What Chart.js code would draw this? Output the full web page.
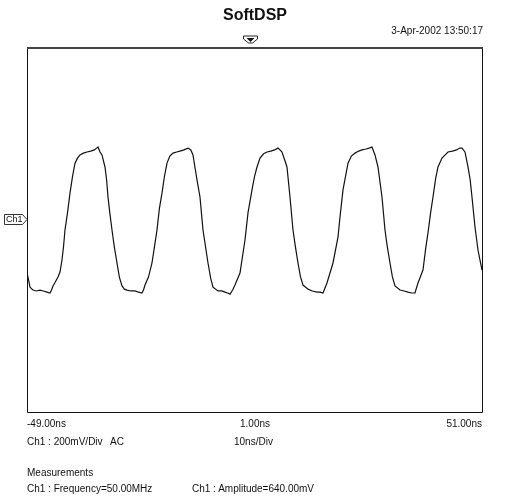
<!DOCTYPE html>
<html>
<head>
<meta charset="utf-8">
<script src="https://cdn.jsdelivr.net/npm/chart.js@4.4.1/dist/chart.umd.min.js"></script>
<style>
  body { margin: 0; background: #fff; }
  #wrap { position: relative; width: 510px; height: 500px; }
  #scope { position: absolute; left: 0; top: 0; }
  .t { position: absolute; font-family: 'Liberation Sans', Arial, sans-serif; font-size: 10px; line-height: 10px; color: #111; white-space: pre; }
  #title { font-size: 16px; line-height: 16px; font-weight: bold; left: 0; width: 510px; text-align: center; top: 7px; }
</style>
</head>
<body>
<div id="wrap">
  <canvas id="scope" width="510" height="500"></canvas>
  <div class="t" id="title">SoftDSP</div>
  <div class="t" style="right:27px; top:26px;">3-Apr-2002 13:50:17</div>
  <div class="t" style="left:6px; top:215px; font-size:9px; line-height:9px;">Ch1</div>
  <div class="t" style="left:27px; top:419px;">-49.00ns</div>
  <div class="t" style="left:205px; width:100px; text-align:center; top:419px;">1.00ns</div>
  <div class="t" style="right:28px; top:419px;">51.00ns</div>
  <div class="t" style="left:27px; top:437px;">Ch1 : 200mV/Div</div>
  <div class="t" style="left:110px; top:437px;">AC</div>
  <div class="t" style="left:234px; top:437px;">10ns/Div</div>
  <div class="t" style="left:27px; top:468px;">Measurements</div>
  <div class="t" style="left:27px; top:484px;">Ch1 : Frequency=50.00MHz</div>
  <div class="t" style="left:192px; top:484px;">Ch1 : Amplitude=640.00mV</div>
</div>
<script>
// time base: 10 div x 10ns, -49ns .. 51ns
const X_MIN = -49, X_MAX = 51;
// 200mV/div, ground reference sits a bit above the screen centre
const Y_MIN = -835, Y_MAX = 765;

// trace, ns
const timeNs = [
  -49.0, -48.6, -48.34, -47.9, -47.68, -46.9, -46.14, -45.4, -44.6, -43.95,
  -43.6, -43.29, -42.9, -42.19, -41.75, -41.31, -40.98, -40.65, -40.1, -39.55,
  -39.0, -38.45, -37.9, -37.35, -36.6, -35.81, -35.0, -34.2, -33.7, -33.4,
  -32.95, -32.52, -31.86, -31.5, -31.2, -30.8, -30.32, -29.8, -29.22, -28.7,
  -28.12, -27.6, -27.02, -26.2, -25.3, -24.5, -23.73, -23.4, -23.07, -22.3,
  -21.53, -21.0, -20.43, -19.9, -19.33, -18.8, -18.23, -17.6, -16.91, -16.1,
  -15.37, -14.5, -13.62, -13.0, -12.52, -12.1, -11.64, -10.98, -10.32, -9.22,
  -8.6, -8.12, -7.02, -6.2, -5.48, -4.9, -4.38, -3.8, -3.29, -2.19,
  -1.09, -0.43, 0.45, 1.0, 1.55, 2.21, 3.0, 3.75, 4.6, 5.4,
  6.16, 6.6, 7.04, 7.6, 8.14, 8.8, 9.46, 10.0, 10.56, 11.1,
  11.66, 12.76, 13.7, 14.74, 15.4, 16.05, 16.93, 18.25, 19.35, 19.79,
  20.45, 21.55, 22.3, 23.09, 23.9, 24.63, 25.5, 26.2, 26.82, 27.48,
  28.14, 29.02, 29.68, 30.2, 30.78, 31.3, 31.88, 32.98, 33.9, 34.74,
  35.5, 36.27, 36.93, 38.03, 38.6, 39.13, 39.7, 40.23, 40.8, 41.33,
  42.21, 42.9, 43.53, 44.5, 45.4, 46.1, 46.6, 47.26, 47.92, 48.4,
  48.8, 49.46, 50.12, 51.0
];

// matching samples, mV
const voltMv = [
  -224, -260, -286, -295, -299, -303, -299, -303, -308, -312,
  -299, -281, -268, -242, -220, -167, -110, -35, 40, 127,
  200, 259, 281, 295, 303, 308, 312, 317, 325, 330,
  308, 295, 242, 185, 110, 40, -35, -110, -180, -242,
  -281, -295, -299, -303, -303, -308, -312, -299, -277, -242,
  -180, -110, -35, 60, 127, 200, 259, 290, 303, 308,
  312, 317, 325, 317, 295, 242, 185, 110, -35, -180,
  -250, -286, -303, -303, -308, -312, -317, -299, -277, -224,
  -79, 40, 141, 200, 242, 281, 300, 308, 312, 317,
  325, 317, 308, 275, 242, 110, -35, -110, -180, -240,
  -277, -295, -303, -308, -308, -312, -268, -180, -66, 22,
  141, 259, 290, 303, 312, 317, 321, 325, 330, 295,
  242, 110, -35, -110, -180, -240, -281, -299, -303, -308,
  -312, -312, -268, -211, -120, -48, 40, 110, 190, 242,
  281, 295, 308, 312, 317, 325, 325, 308, 242, 185,
  110, -22, -123, -211
];

const scopeFrame = {
  id: 'scopeFrame',
  afterDraw(chart) {
    const { ctx, chartArea: a, scales } = chart;
    ctx.save();
    // screen border, top edge heavier
    ctx.strokeStyle = '#111';
    ctx.lineWidth = 1;
    ctx.beginPath();
    ctx.moveTo(a.left + 0.5, a.top);
    ctx.lineTo(a.left + 0.5, a.bottom + 0.5);
    ctx.lineTo(a.right + 0.5, a.bottom + 0.5);
    ctx.lineTo(a.right + 0.5, a.top);
    ctx.stroke();
    ctx.strokeStyle = '#444';
    ctx.lineWidth = 2;
    ctx.beginPath();
    ctx.moveTo(a.left, a.top);
    ctx.lineTo(a.right + 1, a.top);
    ctx.stroke();

    // trigger marker at t = 0
    const tx = Math.round(scales.x.getPixelForValue(0)) + 0.5;
    ctx.strokeStyle = '#222';
    ctx.lineWidth = 1;
    ctx.beginPath();
    ctx.moveTo(tx - 7, a.top - 12);
    ctx.lineTo(tx + 7, a.top - 12);
    ctx.lineTo(tx + 7, a.top - 9);
    ctx.lineTo(tx + 2, a.top - 5);
    ctx.lineTo(tx - 2, a.top - 5);
    ctx.lineTo(tx - 7, a.top - 9);
    ctx.closePath();
    ctx.stroke();
    ctx.fillStyle = '#111';
    ctx.beginPath();
    ctx.moveTo(tx - 4, a.top - 10);
    ctx.lineTo(tx + 4, a.top - 10);
    ctx.lineTo(tx, a.top - 6);
    ctx.closePath();
    ctx.fill();

    // Ch1 ground marker
    const gy = 219.5;
    ctx.strokeStyle = '#333';
    ctx.beginPath();
    ctx.moveTo(4.5, gy - 5);
    ctx.lineTo(22.5, gy - 5);
    ctx.lineTo(27, gy);
    ctx.lineTo(22.5, gy + 5);
    ctx.lineTo(4.5, gy + 5);
    ctx.closePath();
    ctx.stroke();
    ctx.restore();
  }
};

new Chart(document.getElementById('scope'), {
  type: 'line',
  data: {
    datasets: [{
      data: timeNs.map((t, i) => ({ x: t, y: voltMv[i] })),
      borderColor: '#111',
      borderWidth: 1.2,
      pointRadius: 0,
      tension: 0,
      fill: false
    }]
  },
  options: {
    responsive: false,
    animation: false,
    events: [],
    layout: { padding: { left: 27, right: 28, top: 48, bottom: 88 } },
    plugins: { legend: { display: false }, tooltip: { enabled: false } },
    scales: {
      x: { type: 'linear', min: X_MIN, max: X_MAX, display: false },
      y: { type: 'linear', min: Y_MIN, max: Y_MAX, display: false }
    }
  },
  plugins: [scopeFrame]
});
</script>
</body>
</html>
